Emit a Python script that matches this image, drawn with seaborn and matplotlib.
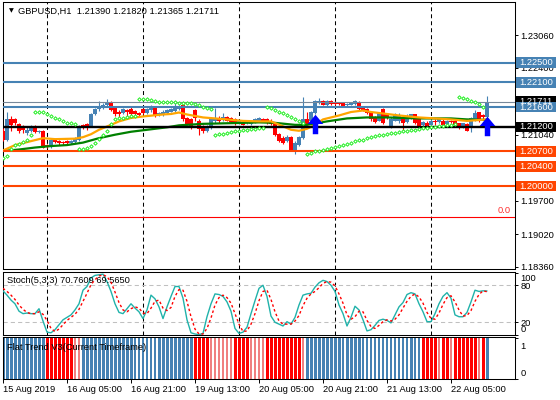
import numpy as np
import pandas as pd
import matplotlib
matplotlib.use('Agg')
import matplotlib.pyplot as plt
import matplotlib.transforms as mtransforms
from matplotlib.path import Path
from matplotlib.patches import Rectangle
import seaborn as sns

# GBPUSD H1 candles, 15 Aug 13:00 .. 22 Aug 14:00
opens = [1.2111, 1.2094, 1.2135, 1.2135, 1.2126, 1.2119, 1.2108, 1.2112, 1.2121, 1.2110,
         1.2112, 1.2084, 1.2080, 1.2094, 1.2091, 1.2089, 1.2091, 1.2087, 1.2089, 1.2094,
         1.2123, 1.2126, 1.2121, 1.2145, 1.2157, 1.2159, 1.2165, 1.2168, 1.2158, 1.2151,
         1.2148, 1.2155, 1.2157, 1.2153, 1.2148, 1.2157, 1.2147, 1.2154, 1.2159, 1.2143,
         1.2143, 1.2148, 1.2151, 1.2153, 1.2157, 1.2165, 1.2137, 1.2135, 1.2155, 1.2131,
         1.2121, 1.2111, 1.2118, 1.2131, 1.2138, 1.2135, 1.2139, 1.2137, 1.2135, 1.2127,
         1.2130, 1.2128, 1.2126, 1.2130, 1.2131, 1.2135, 1.2135, 1.2132, 1.2126, 1.2105,
         1.2097, 1.2091, 1.2099, 1.2072, 1.2083, 1.2097, 1.2135, 1.2131, 1.2148, 1.2168,
         1.2173, 1.2164, 1.2172, 1.2169, 1.2169, 1.2168, 1.2164, 1.2165, 1.2166, 1.2170,
         1.2159, 1.2157, 1.2151, 1.2139, 1.2132, 1.2157, 1.2146, 1.2121, 1.2132, 1.2131,
         1.2139, 1.2130, 1.2137, 1.2145, 1.2135, 1.2123, 1.2128, 1.2124, 1.2131, 1.2130,
         1.2132, 1.2126, 1.2131, 1.2132, 1.2127, 1.2119, 1.2126, 1.2121, 1.2135, 1.2150,
         1.2143, 1.21390]
highs = [1.2118, 1.2151, 1.2141, 1.2138, 1.2128, 1.2124, 1.2119, 1.2124, 1.2123, 1.2114,
         1.2114, 1.2085, 1.2096, 1.2096, 1.2094, 1.2092, 1.2093, 1.2093, 1.2099, 1.2124,
         1.2126, 1.2128, 1.2148, 1.2159, 1.2172, 1.2168, 1.2177, 1.2172, 1.2162, 1.2155,
         1.2159, 1.2157, 1.2162, 1.2155, 1.2150, 1.2159, 1.2159, 1.2164, 1.2162, 1.2150,
         1.2154, 1.2157, 1.2159, 1.2170, 1.2165, 1.2166, 1.2139, 1.2138, 1.2157, 1.2135,
         1.2124, 1.2123, 1.2138, 1.2159, 1.2141, 1.2147, 1.2141, 1.2139, 1.2137, 1.2132,
         1.2131, 1.2132, 1.2134, 1.2137, 1.2139, 1.2138, 1.2137, 1.2135, 1.2128, 1.2108,
         1.2101, 1.2103, 1.2101, 1.2091, 1.2101, 1.2180, 1.2151, 1.2153, 1.2175, 1.2178,
         1.2175, 1.2175, 1.2174, 1.2172, 1.2170, 1.2169, 1.2168, 1.2170, 1.2175, 1.2172,
         1.2162, 1.2158, 1.2153, 1.2141, 1.2151, 1.2158, 1.2148, 1.2139, 1.2147, 1.2148,
         1.2141, 1.2145, 1.2146, 1.2146, 1.2137, 1.2132, 1.2131, 1.2135, 1.2135, 1.2137,
         1.2135, 1.2134, 1.2134, 1.2134, 1.2128, 1.2128, 1.2127, 1.2139, 1.2155, 1.2151,
         1.2146, 1.21820]
lows = [1.2091, 1.2091, 1.2111, 1.2123, 1.2108, 1.2108, 1.2104, 1.2110, 1.2108, 1.2108,
        1.2077, 1.2077, 1.2078, 1.2087, 1.2084, 1.2084, 1.2084, 1.2085, 1.2087, 1.2092,
        1.2116, 1.2114, 1.2119, 1.2143, 1.2153, 1.2157, 1.2162, 1.2153, 1.2141, 1.2139,
        1.2146, 1.2141, 1.2143, 1.2143, 1.2141, 1.2146, 1.2145, 1.2151, 1.2139, 1.2141,
        1.2142, 1.2146, 1.2150, 1.2151, 1.2155, 1.2132, 1.2123, 1.2115, 1.2131, 1.2104,
        1.2108, 1.2110, 1.2116, 1.2128, 1.2128, 1.2132, 1.2131, 1.2128, 1.2124, 1.2126,
        1.2123, 1.2126, 1.2124, 1.2128, 1.2130, 1.2130, 1.2126, 1.2124, 1.2101, 1.2089,
        1.2085, 1.2089, 1.2072, 1.2065, 1.2081, 1.2096, 1.2123, 1.2128, 1.2146, 1.2166,
        1.2164, 1.2162, 1.2165, 1.2165, 1.2164, 1.2161, 1.2162, 1.2164, 1.2165, 1.2155,
        1.2153, 1.2146, 1.2132, 1.2128, 1.2131, 1.2126, 1.2135, 1.2118, 1.2131, 1.2128,
        1.2112, 1.2128, 1.2135, 1.2126, 1.2119, 1.2121, 1.2119, 1.2123, 1.2124, 1.2128,
        1.2123, 1.2124, 1.2127, 1.2122, 1.2116, 1.2118, 1.2111, 1.2110, 1.2132, 1.2130,
        1.2135, 1.21365]
closes = [1.2094, 1.2135, 1.2124, 1.2128, 1.2111, 1.2114, 1.2114, 1.2121, 1.2110, 1.2112,
          1.2078, 1.2080, 1.2094, 1.2089, 1.2087, 1.2087, 1.2087, 1.2091, 1.2096, 1.2119,
          1.2118, 1.2118, 1.2146, 1.2157, 1.2162, 1.2165, 1.2170, 1.2155, 1.2145, 1.2145,
          1.2157, 1.2151, 1.2146, 1.2145, 1.2143, 1.2147, 1.2157, 1.2159, 1.2141, 1.2147,
          1.2151, 1.2155, 1.2157, 1.2159, 1.2162, 1.2135, 1.2126, 1.2118, 1.2137, 1.2116,
          1.2111, 1.2120, 1.2135, 1.2137, 1.2131, 1.2139, 1.2132, 1.2130, 1.2126, 1.2131,
          1.2124, 1.2131, 1.2131, 1.2135, 1.2137, 1.2131, 1.2128, 1.2126, 1.2103, 1.2092,
          1.2087, 1.2099, 1.2074, 1.2087, 1.2099, 1.2135, 1.2126, 1.2151, 1.2172, 1.2172,
          1.2165, 1.2173, 1.2166, 1.2166, 1.2166, 1.2162, 1.2166, 1.2168, 1.2173, 1.2157,
          1.2155, 1.2148, 1.2135, 1.2130, 1.2148, 1.2128, 1.2137, 1.2135, 1.2145, 1.2143,
          1.2128, 1.2142, 1.2145, 1.2128, 1.2121, 1.2130, 1.2121, 1.2132, 1.2130, 1.2135,
          1.2124, 1.2132, 1.2129, 1.2123, 1.2118, 1.2127, 1.2112, 1.2138, 1.2148, 1.2131,
          1.2139, 1.21711]

# moving averages, read at a few bars
ma_fast_bars = [0, 3, 7, 10, 13, 18, 20, 22, 24, 27, 29, 32, 35, 40, 42, 44, 46, 50, 53,
                56, 60, 64, 67, 70, 72, 74, 76, 78, 80, 84, 87, 90, 92, 96, 99, 104, 108,
                112, 116, 121]
ma_fast = [1.2072, 1.2083, 1.2091, 1.2097, 1.2095, 1.2096, 1.2099, 1.2105, 1.2114, 1.2124,
           1.2131, 1.2138, 1.2141, 1.2145, 1.2146, 1.2149, 1.2145, 1.2139, 1.2137, 1.2135,
           1.2132, 1.2131, 1.2131, 1.2121, 1.2114, 1.2112, 1.2116, 1.2124, 1.2135, 1.2143,
           1.2150, 1.2153, 1.2150, 1.2146, 1.2143, 1.2139, 1.2137, 1.2135, 1.2132, 1.2135]
ma_slow_bars = [0, 4, 8, 12, 16, 20, 24, 28, 32, 36, 41, 44, 50, 55, 60, 64, 68, 73, 76,
                81, 86, 91, 96, 104, 112, 116, 121]
ma_slow = [1.2071, 1.2074, 1.2078, 1.2081, 1.2083, 1.2088, 1.2097, 1.2104, 1.2110, 1.2114,
           1.2119, 1.2123, 1.2126, 1.2127, 1.2128, 1.2129, 1.2128, 1.2124, 1.2124, 1.2131,
           1.2137, 1.2139, 1.2139, 1.2137, 1.2137, 1.2135, 1.2134]

# parabolic SAR dots
sar = [1.2057, 1.2060, 1.2076, 1.2084, 1.2085, 1.2090, 1.2094, 1.2103, 1.2151, 1.2151,
       1.2151, 1.2146, 1.2141, 1.2138, 1.2135, 1.2131, 1.2128, 1.2127, 1.2125, 1.2076,
       1.2076, 1.2077, 1.2081, 1.2087, 1.2096, 1.2104, 1.2112, 1.2125, 1.2135, 1.2137,
       1.2138, 1.2140, 1.2141, 1.2141, 1.2177, 1.2176, 1.2176, 1.2175, 1.2172, 1.2171,
       1.2171, 1.2170, 1.2170, 1.2170, 1.2169, 1.2169, 1.2168, 1.2168, 1.2167, 1.2165,
       1.2161, 1.2158, 1.2156, 1.2104, 1.2105, 1.2106, 1.2108, 1.2110, 1.2111, 1.2112,
       1.2113, 1.2114, 1.2115, 1.2116, 1.2117, 1.2118, 1.2160, 1.2158, 1.2155, 1.2151,
       1.2147, 1.2143, 1.2139, 1.2135, 1.2131, 1.2128, 1.2065, 1.2067, 1.2070, 1.2072,
       1.2074, 1.2076, 1.2077, 1.2079, 1.2081, 1.2083, 1.2085, 1.2088, 1.2091, 1.2093,
       1.2094, 1.2097, 1.2099, 1.2101, 1.2103, 1.2104, 1.2105, 1.2107, 1.2108, 1.2109,
       1.2111, 1.2112, 1.2113, 1.2114, 1.2116, 1.2117, 1.2118, 1.2119, 1.2120, 1.2121,
       1.2122, 1.2123, 1.2124, 1.2125, 1.2180, 1.2178, 1.2176, 1.2173, 1.2170, 1.2166,
       1.2161, np.nan]

arrow_bars = [78, 121]
arrow_prices = [1.2125, 1.2121]

# Stoch(5,3,3)
stoch_main = [71, 64, 56, 50, 38, 34, 35, 34, 34, 42, 22, 4, 3, 8, 16, 24, 28, 32, 40, 50,
              72, 78, 92, 96, 97, 98, 86, 70, 50, 36, 34, 42, 50, 43, 37, 26, 40, 64, 58, 45,
              26, 45, 62, 78, 78, 59, 24, 3, 1, 0, 2, 29, 50, 66, 65, 62, 53, 38, 10, 2,
              4, 12, 34, 55, 75, 80, 62, 30, 20, 17, 14, 21, 17, 28, 48, 64, 66, 67, 77, 84,
              88, 86, 80, 70, 48, 34, 14, 28, 46, 40, 24, 6, 8, 15, 23, 25, 23, 19, 32, 45,
              52, 65, 68, 66, 50, 37, 21, 21, 34, 50, 62, 68, 59, 32, 29, 29, 36, 53, 72, 70,
              71, 70.7609]
stoch_signal = [75, 70, 64, 57, 48, 41, 36, 34, 34, 37, 33, 23, 10, 5, 9, 16, 23, 28, 33, 41,
                54, 67, 81, 89, 95, 97, 94, 85, 69, 52, 40, 37, 42, 45, 43, 35, 34, 43, 54, 56,
                43, 39, 44, 62, 73, 72, 54, 29, 9, 1, 1, 10, 27, 48, 60, 64, 60, 51, 34, 17,
                5, 6, 17, 34, 55, 70, 72, 57, 37, 22, 17, 17, 17, 22, 31, 47, 59, 66, 70, 76,
                83, 86, 85, 79, 66, 51, 32, 25, 29, 38, 37, 23, 13, 10, 15, 21, 24, 22, 25, 32,
                43, 54, 62, 66, 61, 51, 36, 26, 25, 35, 49, 60, 63, 53, 40, 30, 31, 39, 54, 65,
                71, 69.5650]

# Flat Trend V3: 2 strong up, 1 weak up, -2 strong down, -1 weak down
flat_state = [2] * 11 + [-2] * 7 + [-1] * 2 + [2] * 13 + [1] * 6 + [2] * 9 + [-2] * 4 + \
             [-1] * 6 + [-2] * 4 + [-1] * 4 + [-2] * 9 + [-1] + [2] * 9 + [1] + [2] * 4 + \
             [1] * 12 + [2] + [1] * 2 + [-2] * 4 + [-1] + [-2] * 2 + [-1] + [-2] * 6 + \
             [-1] + [-2] + [2]

blue_levels = [1.2250, 1.2210, 1.2160]
orange_levels = [1.2070, 1.2040, 1.2000]
black_level = 1.2120
bid = 1.21711
fibo_level = 1.19373
price_ticks = [1.18360, 1.19020, 1.19700, 1.21040, 1.22400, 1.23060]

day_bars = [11, 35, 59, 83, 107]
tick_bars = [0, 16, 32, 48, 64, 80, 96, 112]
tick_labels = ['15 Aug 2019', '16 Aug 05:00', '16 Aug 21:00', '19 Aug 13:00',
               '20 Aug 05:00', '20 Aug 21:00', '21 Aug 13:00', '22 Aug 05:00']

BLUE = '#4682B4'
RED = '#FF0000'
ORANGE = '#FF4500'

sns.set_style('white')
plt.rcParams['font.family'] = ['Liberation Sans', 'DejaVu Sans']
FS = 6.7

df = pd.DataFrame({'open': opens, 'high': highs, 'low': lows, 'close': closes})
df['bar'] = np.arange(len(df))
up = df['close'] >= df['open']
ccol = np.where(up, BLUE, RED)

fig = plt.figure(figsize=(5.6, 4), dpi=100)
L, W = 3 / 560, 512 / 560
ax = fig.add_axes([L, 131 / 400, W, 267 / 400])
axs = fig.add_axes([L, 65 / 400, W, 63 / 400])
axf = fig.add_axes([L, 21 / 400, W, 42 / 400])

for a in (ax, axs, axf):
    a.set_xlim(0, 128)
    for s in a.spines.values():
        s.set_color('black')
        s.set_linewidth(0.75)
    a.tick_params(axis='y', left=False, right=True, labelleft=False, labelright=True,
                  direction='out', length=2.5, width=0.7, pad=1.5, labelsize=FS,
                  colors='black')
    a.tick_params(axis='x', bottom=False, labelbottom=False)

# ---- main price window ----
ax.set_ylim(1.18319, 1.23729)
for b in day_bars:
    ax.axvline(b, color='black', lw=0.75, ls=(0, (3.8, 2.9)), zorder=1)
    axs.axvline(b, color='black', lw=0.75, ls=(0, (3.8, 2.9)), zorder=1)

ax.vlines(df['bar'], df['low'], df['high'], colors=ccol, lw=0.8, zorder=3)
body_lo = np.minimum(df['open'], df['close'])
body_h = np.maximum((df['close'] - df['open']).abs(), 0.00005)
ax.bar(df['bar'], body_h, bottom=body_lo, width=0.8, color=ccol, linewidth=0, zorder=3)

sns.lineplot(x=ma_slow_bars, y=ma_slow, ax=ax, color='#008000', linewidth=1.6, zorder=3.5)
sns.lineplot(x=ma_fast_bars, y=ma_fast, ax=ax, color='#FFA500', linewidth=1.6, zorder=3.6)
ax.scatter(df['bar'], sar, marker='D', s=3, facecolors='white', edgecolors='#22EE22',
           linewidths=0.7, zorder=4.5)

for lv in blue_levels:
    ax.axhline(lv, color=BLUE, lw=1.5, zorder=4)
for lv in orange_levels:
    ax.axhline(lv, color=ORANGE, lw=1.5, zorder=4)
ax.axhline(black_level, color='black', lw=1.7, zorder=4)
ax.axhline(bid, color='#778899', lw=0.8, zorder=4)
ax.axhline(fibo_level, color=RED, lw=0.8, zorder=4)

arrow = Path([(0, 1), (0.8, 0.05), (0.28, 0.05), (0.28, -1), (-0.28, -1), (-0.28, 0.05),
              (-0.8, 0.05), (0, 1)],
             [Path.MOVETO] + [Path.LINETO] * 6 + [Path.CLOSEPOLY])
ax.scatter(arrow_bars, arrow_prices, marker=arrow, s=14 ** 2, c='#0000FF',
           linewidths=0, zorder=6)

ax.set_yticks(price_ticks)
ax.set_yticklabels([f'{v:.5f}' for v in price_ticks])

blend = mtransforms.blended_transform_factory(ax.transAxes, ax.transData)
box_h = 0.00215
def level_box(value, color):
    ax.add_patch(Rectangle((1.002, value - box_h / 2), 0.079, box_h, transform=blend,
                           facecolor=color, edgecolor='none', clip_on=False, zorder=7))
    ax.text(1.0085, value, f'{value:.5f}', transform=blend, ha='left', va='center',
            fontsize=FS, color='white', clip_on=False, zorder=8)

level_box(bid, 'black')
for lv in blue_levels:
    level_box(lv, BLUE)
level_box(black_level, 'black')
for lv in orange_levels:
    level_box(lv, ORANGE)

ax.text(0.992, fibo_level + 0.0004, '0.0', transform=blend, ha='right', va='bottom',
        fontsize=FS, color='#FF3030')
ax.text(0.011, 0.966, '\u25bc', transform=ax.transAxes, ha='left', va='center',
        fontsize=4.5, color='black', family='DejaVu Sans')
ax.text(0.029, 0.966, 'GBPUSD,H1  1.21390 1.21820 1.21365 1.21711', transform=ax.transAxes,
        ha='left', va='center', fontsize=FS, color='black')

# ---- stochastic ----
axs.set_ylim(-0.6, 101.5)
for lv in (20, 80):
    axs.axhline(lv, color='#C0C0C0', lw=0.75, ls=(0, (4, 3)), zorder=1)
sns.lineplot(x=df['bar'], y=stoch_main, ax=axs, color='#20B2AA', linewidth=1, zorder=3)
sns.lineplot(x=df['bar'], y=stoch_signal, ax=axs, color=RED, linewidth=1,
             linestyle=(0, (1.8, 1.8)), zorder=3.5)
axs.set_ylabel('')
axs.set_yticks([0, 20, 80, 100])
axs.set_yticklabels(['0', '20', '80', '100'])
for lab, dy in zip(axs.get_yticklabels(), [6, 0, 0, -5]):
    lab.set_transform(lab.get_transform() +
                      mtransforms.ScaledTranslation(0, dy / 100, fig.dpi_scale_trans))
axs.text(0.008, 0.86, 'Stoch(5,3,3) 70.7609 69.5650', transform=axs.transAxes,
         ha='left', va='center', fontsize=FS, color='black')

# ---- Flat Trend histogram ----
axf.set_ylim(0, 1.02)
fcol = {2: BLUE, 1: BLUE, -2: RED, -1: '#F08080'}
fwid = {2: 0.75, 1: 0.28, -2: 0.75, -1: 0.28}
axf.bar(df['bar'], [1] * len(flat_state), width=[fwid[s] for s in flat_state],
        color=[fcol[s] for s in flat_state], linewidth=0, zorder=2)
axf.set_yticks([0, 1])
axf.set_yticklabels(['0', '1'])
for lab, dy in zip(axf.get_yticklabels(), [6, -8]):
    lab.set_transform(lab.get_transform() +
                      mtransforms.ScaledTranslation(0, dy / 100, fig.dpi_scale_trans))
axf.text(0.008, 0.76, 'Flat Trend V3(Current Timeframe)', transform=axf.transAxes,
         ha='left', va='center', fontsize=FS, color='black', zorder=5)

axf.tick_params(axis='x', bottom=True, labelbottom=True, direction='out', length=3,
                width=0.7, pad=1.5, labelsize=FS, colors='black')
axf.set_xticks(tick_bars)
axf.set_xticklabels(tick_labels)
for lab in axf.get_xticklabels():
    lab.set_horizontalalignment('left')

fig.savefig('out.png', dpi=100)
